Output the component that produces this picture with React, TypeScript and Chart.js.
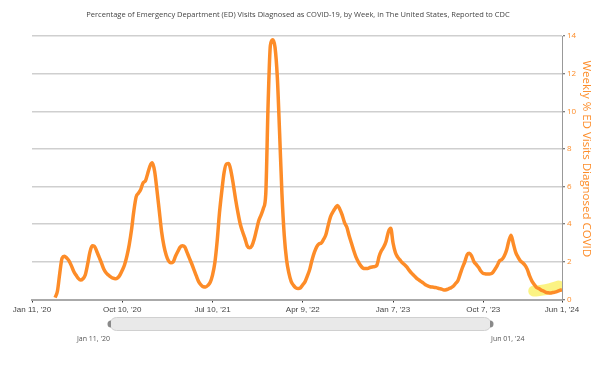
import React, { useEffect, useRef } from 'react';
import { Chart, registerables } from 'chart.js';

Chart.register(...registerables);

const TITLE =
  'Percentage of Emergency Department (ED) Visits Diagnosed as COVID-19, by Week, in The United States, Reported to CDC';
const Y_TITLE = 'Weekly % ED Visits Diagnosed COVID      ';

// week index 0 = Jan 11, '20
const FIRST_WEEK = 10;
const WEEKLY_PCT = [
  // w10 - w19
  0.1, 0.45, 1.4, 2.2, 2.3, 2.2, 2.05, 1.8, 1.5, 1.3,
  // w20 - w29
  1.12, 1.03, 1.1, 1.3, 1.85, 2.5, 2.85, 2.82, 2.55, 2.25,
  // w30 - w39
  1.95, 1.62, 1.42, 1.3, 1.2, 1.13, 1.1, 1.15, 1.3, 1.55,
  // w40 - w49
  1.85, 2.3, 2.9, 3.7, 4.7, 5.45, 5.65, 5.85, 6.2, 6.3,
  // w50 - w59
  6.7, 7.1, 7.26, 6.8, 5.8, 4.7, 3.6, 2.85, 2.35, 2.05,
  // w60 - w69
  1.95, 2.0, 2.3, 2.55, 2.78, 2.85, 2.8, 2.5, 2.2, 1.9,
  // w70 - w79
  1.58, 1.25, 0.95, 0.78, 0.68, 0.67, 0.75, 0.92, 1.3, 1.95,
  // w80 - w89
  3.1, 4.6, 5.75, 6.75, 7.2, 7.22, 6.8, 6.1, 5.3, 4.6,
  // w90 - w99
  4.0, 3.6, 3.25, 2.85, 2.75, 2.85, 3.2, 3.7, 4.2, 4.5,
  // w100 - w109
  4.85, 5.6, 10.3, 13.5, 13.8, 13.4, 11.8, 8.8, 5.6, 3.4,
  // w110 - w119
  2.1, 1.4, 0.95, 0.75, 0.62, 0.58, 0.62, 0.78, 0.95, 1.25,
  // w120 - w129
  1.6, 2.1, 2.5, 2.8, 2.95, 3.0, 3.2, 3.45, 3.95, 4.4,
  // w130 - w139
  4.65, 4.85, 5.0, 4.8, 4.5, 4.1, 3.85, 3.4, 3.0, 2.6,
  // w140 - w149
  2.25, 2.0, 1.8, 1.67, 1.65, 1.65, 1.7, 1.73, 1.75, 1.82,
  // w150 - w159
  2.3, 2.6, 2.8, 3.1, 3.6, 3.78, 3.0, 2.5, 2.25, 2.1,
  // w160 - w169
  1.95, 1.85, 1.72, 1.55, 1.4, 1.28, 1.15, 1.05, 0.96, 0.88,
  // w170 - w179
  0.78, 0.72, 0.68, 0.66, 0.64, 0.62, 0.58, 0.55, 0.5, 0.52,
  // w180 - w189
  0.57, 0.62, 0.7, 0.85, 1.0, 1.35, 1.7, 2.0, 2.38, 2.46,
  // w190 - w199
  2.3, 2.0, 1.85, 1.7, 1.5, 1.38, 1.36, 1.35, 1.36, 1.42,
  // w200 - w209
  1.6, 1.8, 2.05, 2.12, 2.3, 2.6, 3.1, 3.42, 2.95, 2.5,
  // w210 - w219
  2.25, 2.05, 1.95, 1.82, 1.6, 1.25, 0.98, 0.8, 0.64, 0.58,
  // w220 - w229
  0.5, 0.45, 0.38, 0.36, 0.35, 0.37, 0.39, 0.43, 0.48, 0.52,
];

const X_TICK_WEEKS = [0, 39, 78, 117, 156, 195, 229];
const X_TICK_LABELS = ["Jan 11, '20", "Oct 10, '20", "Jul 10, '21", "Apr 9, '22", "Jan 7, '23", "Oct 7, '23", "Jun 1, '24"];
const Y_TICKS = [0, 2, 4, 6, 8, 10, 12, 14];

const HIGHLIGHT_WEEKS = [216.8, 222, 227.5];
const HIGHLIGHT_PCT = [0.45, 0.52, 0.72];

const RANGE_LABELS = ["Jan 11, '20", "Jun 01, '24"];

const ORANGE = '#fd8c28';

const titlePlugin = {
  id: 'centeredTitle',
  afterDraw(chart: any) {
    const ctx = chart.ctx as CanvasRenderingContext2D;
    ctx.save();
    ctx.fillStyle = '#444';
    ctx.font = '7.5px "Open Sans"';
    ctx.textAlign = 'center';
    ctx.textBaseline = 'middle';
    ctx.fillText(TITLE, 298, 15);
    ctx.restore();
  },
};

const sliderPlugin = {
  id: 'rangeSlider',
  afterDraw(chart: any) {
    const ctx = chart.ctx as CanvasRenderingContext2D;
    const x0 = 110;
    const x1 = 491;
    const y0 = 317.5;
    const y1 = 330.5;
    const r = (y1 - y0) / 2;
    ctx.save();
    ctx.beginPath();
    ctx.moveTo(x0 + r, y0);
    ctx.lineTo(x1 - r, y0);
    ctx.arc(x1 - r, y0 + r, r, -Math.PI / 2, Math.PI / 2);
    ctx.lineTo(x0 + r, y1);
    ctx.arc(x0 + r, y0 + r, r, Math.PI / 2, (3 * Math.PI) / 2);
    ctx.closePath();
    ctx.fillStyle = '#e9e9e9';
    ctx.fill();
    ctx.strokeStyle = '#d0d0d0';
    ctx.lineWidth = 1;
    ctx.stroke();
    // handles
    ctx.fillStyle = '#8a8a8a';
    ctx.beginPath();
    ctx.arc(x0 + 1, y0 + r, 3.5, Math.PI / 2, (3 * Math.PI) / 2);
    ctx.closePath();
    ctx.fill();
    ctx.beginPath();
    ctx.arc(x1 - 1, y0 + r, 3.5, -Math.PI / 2, Math.PI / 2);
    ctx.closePath();
    ctx.fill();
    // labels
    ctx.fillStyle = '#555';
    ctx.font = '7px "Open Sans"';
    ctx.textBaseline = 'middle';
    ctx.textAlign = 'right';
    ctx.fillText(RANGE_LABELS[0], x0, 339);
    ctx.textAlign = 'left';
    ctx.fillText(RANGE_LABELS[1], x1, 339);
    ctx.restore();
  },
};

export default function App() {
  const ref = useRef<HTMLCanvasElement | null>(null);

  useEffect(() => {
    if (!ref.current) return;
    const mainData = WEEKLY_PCT.map((v, i) => ({ x: FIRST_WEEK + i, y: v }));
    const hiData = HIGHLIGHT_WEEKS.map((w, i) => ({ x: w, y: HIGHLIGHT_PCT[i] }));
    const chart = new Chart(ref.current, {
      type: 'line',
      data: {
        datasets: [
          {
            label: 'Weekly % ED Visits Diagnosed COVID',
            data: mainData,
            borderColor: ORANGE,
            borderWidth: 3.5,
            pointRadius: 0,
            cubicInterpolationMode: 'monotone',
            fill: false,
            order: 0,
          },
          {
            label: 'highlight',
            data: hiData,
            borderColor: 'rgba(250, 240, 100, 0.8)',
            borderWidth: 11,
            borderCapStyle: 'round',
            pointRadius: 0,
            tension: 0.4,
            fill: false,
            order: 1,
          },
        ],
      },
      options: {
        responsive: false,
        animation: false,
        layout: { padding: { left: 32, right: 0, top: 36, bottom: 64.5 } },
        plugins: {
          legend: { display: false },
          tooltip: { enabled: false },
          title: { display: false },
        },
        scales: {
          x: {
            type: 'linear',
            min: 0,
            max: 229,
            afterBuildTicks: (s: any) => {
              s.ticks = X_TICK_WEEKS.map((v) => ({ value: v }));
            },
            afterFit: (s: any) => {
              s.height = 20;
            },
            ticks: {
              autoSkip: false,
              maxRotation: 0,
              color: '#444',
              padding: 2,
              font: { family: '"Liberation Sans"', size: 8 },
              callback: (v: any) => {
                const i = X_TICK_WEEKS.indexOf(Number(v));
                return i >= 0 ? X_TICK_LABELS[i] : '';
              },
            },
            grid: { drawOnChartArea: false, tickLength: 3, tickColor: '#333', tickWidth: 1 },
            border: { color: '#aaa', width: 2 },
          },
          y: {
            position: 'right',
            min: 0,
            max: 14,
            afterBuildTicks: (s: any) => {
              s.ticks = Y_TICKS.map((v) => ({ value: v }));
            },
            afterFit: (s: any) => {
              s.width = 38;
            },
            ticks: {
              color: ORANGE,
              padding: 2,
              font: { family: '"Open Sans"', size: 8 },
            },
            grid: { color: '#cfcfcf', lineWidth: 1.5, tickLength: 3, tickColor: '#555', tickWidth: 1 },
            border: { color: '#999', width: 1 },
            title: {
              display: true,
              text: Y_TITLE,
              color: ORANGE,
              font: { family: '"Open Sans"', size: 11.5 },
              padding: { top: 7, bottom: 0 },
            },
          },
        },
      },
      plugins: [titlePlugin, sliderPlugin],
    } as any);
    return () => chart.destroy();
  }, []);

  return (
    <div style={{ position: 'fixed', left: 0, top: 0, width: 600, height: 384, background: '#fff' }}>
      <canvas ref={ref} width={600} height={384} style={{ display: 'block', width: 600, height: 384 }} />
    </div>
  );
}
